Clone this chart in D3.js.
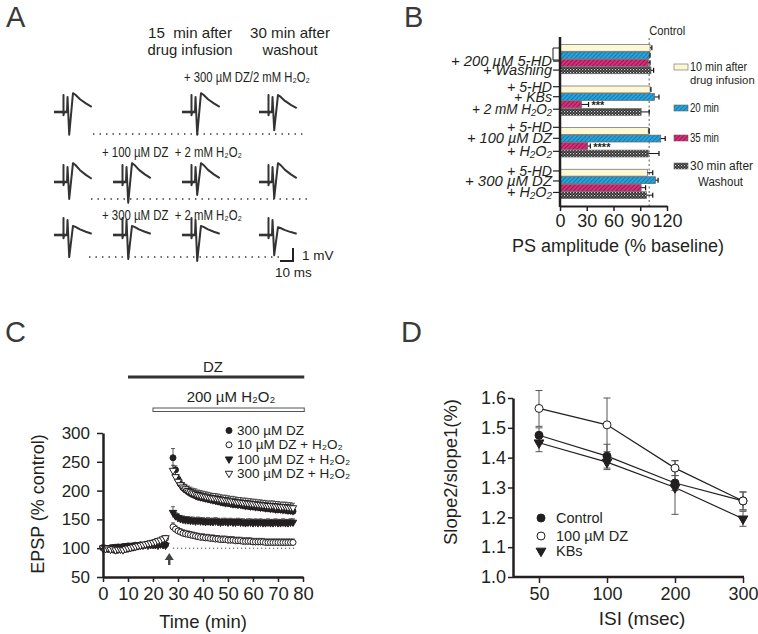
<!DOCTYPE html>
<html><head><meta charset="utf-8">
<script src="https://cdn.jsdelivr.net/npm/d3@7"></script>
<style>
body{margin:0;background:#fff}
svg{display:block}
text{font-family:"Liberation Sans",Arial,Helvetica,sans-serif;fill:#231f20}
</style>
</head><body>
<svg id="c" width="758" height="634"></svg>
<script>
// ---------------- DATA ----------------
// Panel A: example traces (ms, mV) – spike depth, peak and end level for each row/column
const traceT = [0, 7.3, 7.3, 7.3, 7.8, 10.0, 10.4, 11.7, 14.6, 16.5, 20, 24.5, 29];
const rowsA = [
  [{c:0,S:1.75,P:1.45,E:0.4},{c:2,S:1.75,P:1.45,E:0.4},{c:3,S:1.4,P:1.3,E:0.3}],
  [{c:0,S:1.3,P:1.45,E:0.25},{c:1,S:1.6,P:1.45,E:0.3},{c:2,S:1.0,P:1.45,E:0.3},{c:3,S:1.25,P:1.45,E:0.3}],
  [{c:0,S:1.7,P:0.7,E:0.1},{c:1,S:1.85,P:0.7,E:0.1},{c:2,S:2.0,P:0.7,E:0.1},{c:3,S:1.55,P:0.6,E:0.1}]
];
const rowLabelsA = ["+ 300 µM DZ/2 mM H₂O₂", "+ 100 µM DZ  + 2 mM H₂O₂", "+ 300 µM DZ  + 2 mM H₂O₂"];

// Panel B
const bGroups = ["g1","g2","g3","g4"];
const bLabels = [["+ 200 µM 5-HD","+ Washing"],["+ 5-HD","+ KBs","+ 2 mM H₂O₂"],["+ 5-HD","+ 100 µM DZ","+ H₂O₂"],["+ 5-HD","+ 300 µM DZ","+ H₂O₂"]];
const bSeries = ["10 min after drug infusion","20 min","35 min","30 min after Washout"];
const b10  = [101, 101, 99, 98];
const b20  = [100, 106, 113, 107];
const b35  = [99, 24, 31, 91];
const b30w = [102, 91, 99, 97];
const e10  = [2, 1, 1, 6];
const e20  = [1, 5, 5, 3];
const e35  = [2, 8, 3, 5];
const e30w = [3, 9, 12, 7];
const bStars = ["", "***", "****", ""];
const bTicks = [0, 30, 60, 90, 120];

// Panel C
const timeC = [0,1,2,3,4,5,6,7,8,9,10,11,12,13,14,15,16,17,18,19,20,21,22,23,24,25,
  28,29,30,31,32,33,34,35,36,37,38,39,40,41,42,43,44,45,46,47,48,49,50,51,52,53,54,55,56,57,58,59,60,61,62,63,64,65,66,67,68,69,70,71,72,73,74,75,76];
const dz300 = [101,100,99,100,101,100,102,101,102,103,104,103,104,105,104,106,105,106,107,106,105,107,106,108,107,106,
  257,236,220,211,205,201,198,195,193,191,189,188,187,186,185,184,183,182,181,180,179,178,178,177,176,176,175,175,174,173,173,172,172,171,171,170,170,169,169,168,168,167,167,167,166,166,165,165,164];
const dz10H = [100,99,98,99,97,96,97,98,97,98,99,100,101,102,103,104,105,106,107,108,109,110,112,113,115,117,
  137,133,130,128,126,125,124,123,122,121,120,119,119,118,118,117,117,116,116,115,115,115,114,114,114,113,113,113,112,112,112,112,111,111,111,111,111,110,110,110,110,110,110,110,110,110,110,110,110];
const dz100H = [100,101,100,101,102,101,103,102,103,104,103,104,105,104,105,106,105,106,105,106,107,106,105,107,106,105,
  162,156,153,151,150,149,149,148,148,147,148,147,147,146,147,146,146,147,146,145,146,146,145,146,145,145,146,145,145,144,145,145,144,145,144,145,144,144,145,144,144,145,144,144,145,144,144,145,145];
const dz300H = [100,99,100,98,99,97,98,98,97,99,100,101,102,103,104,105,106,107,108,109,110,111,113,114,116,118,
  235,224,216,210,206,203,200,198,196,195,193,192,191,190,189,188,187,187,186,185,184,184,183,182,182,181,180,180,179,179,178,178,177,177,176,176,175,175,174,174,174,173,173,172,172,172,171,171,170];
const cNames = ["300 µM DZ", "10 µM DZ + H₂O₂", "100 µM DZ + H₂O₂", "300 µM DZ + H₂O₂"];
const cErrBase = [3, 3, 3, 3];
const cErrFirst = [16, 7, 10, 9];
const cErrPost = [7, 6, 6, 8];
const cXTicks = [0,10,20,30,40,50,60,70,80];
const cYTicks = [50,100,150,200,250,300];

// Panel D
const dISI = ["50","100","200","300"];
const dControl = [1.475, 1.405, 1.315, 1.255];
const dControlErr = [0.025, 0.04, 0.025, 0.03];
const dDZ = [1.565, 1.51, 1.365, 1.255];
const dDZErr = [0.06, 0.09, 0.025, 0.03];
const dKB = [1.45, 1.385, 1.30, 1.195];
const dKBErr = [0.03, 0.025, 0.09, 0.025];
const dNames = ["Control", "100 µM DZ", "KBs"];
const dYTicks = [1.0,1.1,1.2,1.3,1.4,1.5,1.6];

// ---------------- HELPERS ----------------
const svg = d3.select('#c');
svg.append('rect').attr('width',758).attr('height',634).attr('fill','#fff');
const INK = '#231f20';

function fit(t, w){
  t.attr('textLength', w).attr('lengthAdjust','spacingAndGlyphs');
  return t;
}
function letter(x,y,s){ svg.append('text').attr('x',x).attr('y',y).attr('font-size',29).style('fill','#3a3a3a').text(s); }

letter(6,27,'A'); letter(404,27,'B'); letter(5,342,'C'); letter(401,342,'D');

// ---------------- PANEL A ----------------
(function(){
  const g = svg.append('g');
  const hdr = [[190,38,"15  min after",84],[190,55,"drug infusion",85],[290,38,"30 min after",80],[290,55,"washout",55]];
  hdr.forEach(h => fit(g.append('text').attr('x',h[0]-h[3]/2).attr('y',h[1]).attr('font-size',15).style('white-space','pre').text(h[2]), h[3]));
  const rowLab = [[184,82,126],[102,157,140],[102,220,140]];
  rowLabelsA.forEach((s,i) => {
    const t = g.append('text').attr('x',rowLab[i][0]).attr('y',rowLab[i][1]).attr('font-size',14).style('white-space','pre').text(s);
    fit(t, rowLab[i][2]);
  });
  const xA = d3.scaleLinear().domain([0,10]).range([0,13]);
  const yA = d3.scaleLinear().domain([0,1]).range([0,-13]);
  const line = d3.line().x(d => xA(d[0])).y(d => yA(d[1]));
  const colX = [54,113,182,259], rowY = [112,182,235];
  function shape(S,P,E){ const d = P-E; return [0,0,1.3,-0.25,0,0,1.15,-S,P,P-0.12*d,P-0.45*d,P-0.75*d,P-d]; }
  rowsA.forEach((row,ri) => row.forEach(tr => {
    const v = shape(tr.S,tr.P,tr.E);
    const tg = g.append('g').attr('transform',`translate(${colX[tr.c]},${rowY[ri]})`);
    tg.append('path').attr('d', line(traceT.map((t,i)=>[t,v[i]]))).attr('fill','none').attr('stroke','#333').attr('stroke-width',2).attr('stroke-linejoin','round');
    tg.append('path').attr('d', line([[0,0],[10,0]])).attr('stroke','#333').attr('stroke-width',2.6);
  }));
  const dots = [[134,93,305],[199,91,310],[257,89,283]];
  dots.forEach(d => g.append('line').attr('x1',d[1]).attr('x2',d[2]).attr('y1',d[0]).attr('y2',d[0])
     .attr('stroke','#333').attr('stroke-width',1.4).attr('stroke-dasharray','1.4,5.1'));
  const sb = g.append('g').attr('transform','translate(293,261)');
  sb.append('path').attr('d', `M${xA(-10)},0H0V${yA(1)}`).attr('fill','none').attr('stroke','#222').attr('stroke-width',2);
  g.append('text').attr('x',302).attr('y',260).attr('font-size',13.5).text('1 mV');
  g.append('text').attr('x',275).attr('y',277).attr('font-size',13.5).text('10 ms');
})();

// ---------------- PANEL B ----------------
(function(){
  const g = svg.append('g');
  const defs = svg.append('defs');
  function hatch(id, base, line){
    const p = defs.append('pattern').attr('id',id).attr('patternUnits','userSpaceOnUse').attr('width',3).attr('height',3).attr('patternTransform','rotate(45)');
    p.append('rect').attr('width',3).attr('height',3).attr('fill',base);
    p.append('rect').attr('width',1).attr('height',3).attr('fill',line);
  }
  hatch('hBlue','#29a3d9','#137bb0');
  hatch('hMag','#d6307c','#a3124f');
  const ck = defs.append('pattern').attr('id','hBlk').attr('patternUnits','userSpaceOnUse').attr('width',3).attr('height',3);
  ck.append('rect').attr('width',3).attr('height',3).attr('fill','#2b2b2b');
  ck.append('rect').attr('x',0).attr('y',0).attr('width',1.2).attr('height',1.2).attr('fill','#d8d8d8');
  ck.append('rect').attr('x',1.5).attr('y',1.5).attr('width',1.2).attr('height',1.2).attr('fill','#9a9a9a');
  const fills = ['#fdf8d4','url(#hBlue)','url(#hMag)','url(#hBlk)'];

  const x = d3.scaleLinear().domain([0,120]).range([560,667]);
  const y = d3.scaleBand().domain(bGroups).range([37,206]).paddingInner(0.28).paddingOuter(0.17);
  const ys = d3.scaleBand().domain(bSeries).range([0,y.bandwidth()]);
  const vals = [b10,b20,b35,b30w], errs = [e10,e20,e35,e30w];

  g.append('line').attr('x1',x(100)).attr('x2',x(100)).attr('y1',38).attr('y2',206).attr('stroke','#555').attr('stroke-width',1).attr('stroke-dasharray','2,2.5');
  fit(g.append('text').attr('x',x(100)).attr('y',35).attr('font-size',12.5).text('Control'), 36);

  bGroups.forEach((gr,gi) => {
    bSeries.forEach((s,si) => {
      const v = vals[si][gi], e = errs[si][gi];
      const yy = y(gr)+ys(s), h = ys.bandwidth();
      g.append('rect').attr('x',x(0)).attr('y',yy+0.3).attr('width',x(v)-x(0)).attr('height',h-0.6)
        .attr('fill',fills[si]).attr('stroke','#666').attr('stroke-width',0.7);
      const cy = yy + h/2;
      g.append('line').attr('x1',x(v)).attr('x2',x(v+e)).attr('y1',cy).attr('y2',cy).attr('stroke','#111').attr('stroke-width',1);
      g.append('line').attr('x1',x(v+e)).attr('x2',x(v+e)).attr('y1',cy-2.5).attr('y2',cy+2.5).attr('stroke','#111').attr('stroke-width',1.2);
      if (si === 2 && bStars[gi]) {
        g.append('text').attr('x',x(v+e)+3).attr('y',cy+5).attr('font-size',11).attr('font-weight','bold').text(bStars[gi]);
      }
    });
  });
  const offs = [[22,31],[6,16,28.5],[5,16,29],[7,17,28.5]];
  const widths = [[101,69],[45,38,80],[45,85,45],[45,87,45]];
  bGroups.forEach((gr,gi) => {
    bLabels[gi].forEach((s,li) => {
      const by = y(gr) + offs[gi][li];
      const t = g.append('text').attr('x',552-widths[gi][li]).attr('y',by).attr('font-size',15).attr('font-style','italic').text(s);
      fit(t, widths[gi][li]);
      g.append('line').attr('x1',553).attr('x2',560).attr('y1',by-5).attr('y2',by-5).attr('stroke',INK).attr('stroke-width',1.2);
    });
  });
  g.append('path').attr('d','M560,48H553V60H560').attr('fill','none').attr('stroke',INK).attr('stroke-width',1);

  g.append('line').attr('x1',560).attr('x2',560).attr('y1',37).attr('y2',207).attr('stroke',INK).attr('stroke-width',2.5);
  const ax = g.append('g').attr('transform','translate(0,206)').call(d3.axisBottom(x).tickValues(bTicks).tickSize(5).tickSizeOuter(0).tickPadding(3));
  ax.select('.domain').attr('stroke',INK).attr('stroke-width',2);
  ax.selectAll('.tick line').attr('stroke',INK).attr('stroke-width',1.5);
  ax.selectAll('.tick text').attr('font-size',18).attr('font-family','Liberation Sans, Arial, sans-serif').attr('fill',INK);
  g.append('text').attr('x',618).attr('y',252).attr('text-anchor','middle').attr('font-size',18).text('PS amplitude (% baseline)');

  const leg = [[67,['10 min after','drug infusion'],[57,0]],[108,['20 min'],[29]],[138,['35 min'],[29]],[166,['30 min after','Washout'],[63,45]]];
  leg.forEach((l,i) => {
    g.append('rect').attr('x',674).attr('y',l[0]-3).attr('width',14).attr('height',6).attr('fill',fills[i]).attr('stroke','#666').attr('stroke-width',0.6);
    fit(g.append('text').attr('x',690).attr('y',l[0]+4).attr('font-size',12.5).text(l[1][0]), l[2][0]);
    if (l[1][1]) {
      const xx = i === 3 ? 698 : 690;
      const t2 = g.append('text').attr('x',xx).attr('y',l[0]+(i===3?20:17)).attr('font-size', i===3 ? 12.5 : 11.3).text(l[1][1]);
      if (l[2][1]) fit(t2, l[2][1]);
    }
  });
})();

// ---------------- PANEL C ----------------
const sym = {
  fc: {type:'circle', fill:INK},
  oc: {type:'circle', fill:'#fff'},
  ft: {type:'tri', fill:INK},
  ot: {type:'tri', fill:'#fff'}
};
function drawMarker(g, x, y, kind, size){
  const s = sym[kind];
  if (s.type === 'circle') {
    g.append('circle').attr('cx',x).attr('cy',y).attr('r',size).attr('fill',s.fill).attr('stroke',INK).attr('stroke-width',1);
  } else {
    g.append('path').attr('d', d3.symbol(d3.symbolTriangle, size*size*2.6)()).attr('transform',`translate(${x},${y}) rotate(180)`)
      .attr('fill',s.fill).attr('stroke',INK).attr('stroke-width',1);
  }
}
(function(){
  const g = svg.append('g');
  const x = d3.scaleLinear().domain([0,80]).range([103,303]);
  const y = d3.scaleLinear().domain([50,300]).range([577,433]);
  g.append('text').attr('x',213).attr('y',372).attr('text-anchor','middle').attr('font-size',15).text('DZ');
  g.append('line').attr('x1',x(10)).attr('x2',x(80.5)).attr('y1',377).attr('y2',377).attr('stroke','#333').attr('stroke-width',3);
  g.append('text').attr('x',231).attr('y',402).attr('text-anchor','middle').attr('font-size',15).text('200 µM H₂O₂');
  g.append('rect').attr('x',x(20)).attr('y',408).attr('width',x(80.5)-x(20)).attr('height',3.5).attr('fill','#fff').attr('stroke','#555').attr('stroke-width',1);

  g.append('line').attr('x1',x(28)).attr('x2',x(77)).attr('y1',y(100)).attr('y2',y(100)).attr('stroke','#444').attr('stroke-width',1).attr('stroke-dasharray','1.2,2.8');
  g.append('path').attr('d',`M${x(26.5)},553l-4.5,7h3.3v5h2.4v-5h3.3z`).attr('fill','#444');

  const series = [
    {v:dz10H, k:'oc', i:1}, {v:dz100H, k:'ft', i:2}, {v:dz300, k:'fc', i:0}, {v:dz300H, k:'ot', i:3}
  ];
  series.forEach(s => {
    const gg = g.append('g');
    timeC.forEach((t,j) => {
      const e = t < 26 ? cErrBase[s.i] : (t === 28 ? cErrFirst[s.i] : cErrPost[s.i]);
      const cx = x(t);
      gg.append('line').attr('x1',cx).attr('x2',cx).attr('y1',y(s.v[j]+e)).attr('y2',y(s.v[j]-e)).attr('stroke','#333').attr('stroke-width',0.8);
      gg.append('line').attr('x1',cx-2).attr('x2',cx+2).attr('y1',y(s.v[j]+e)).attr('y2',y(s.v[j]+e)).attr('stroke','#333').attr('stroke-width',0.8);
    });
    timeC.forEach((t,j) => drawMarker(gg, x(t), y(s.v[j]), s.k, 3));
  });

  const ay = g.append('g').attr('transform','translate(103,0)').call(d3.axisLeft(y).tickValues(cYTicks).tickSize(6).tickSizeOuter(0).tickPadding(7));
  const axx = g.append('g').attr('transform','translate(0,577)').call(d3.axisBottom(x).tickValues(cXTicks).tickSize(5).tickSizeOuter(0).tickPadding(5));
  [ay,axx].forEach(a => {
    a.select('.domain').attr('stroke',INK).attr('stroke-width',2.5);
    a.selectAll('.tick line').attr('stroke',INK).attr('stroke-width',1.5);
    a.selectAll('.tick text').attr('font-family','Liberation Sans, Arial, sans-serif').attr('fill',INK);
  });
  ay.selectAll('.tick text').attr('font-size',17);
  axx.selectAll('.tick text').attr('font-size',18.5);
  g.append('text').attr('x',203).attr('y',628).attr('text-anchor','middle').attr('font-size',18.5).text('Time (min)');
  g.append('text').attr('transform','translate(44,504) rotate(-90)').attr('text-anchor','middle').attr('font-size',18).text('EPSP (% control)');

  const kinds = ['fc','oc','ft','ot'];
  cNames.forEach((n,i) => {
    const by = 435 + i*14.3;
    drawMarker(g, 229, by-4.5, kinds[i], 3);
    g.append('text').attr('x',237).attr('y',by).attr('font-size',13.5).text(n);
  });
})();

// ---------------- PANEL D ----------------
(function(){
  const g = svg.append('g');
  const x = d3.scalePoint().domain(dISI).range([539,743]);
  const y = d3.scaleLinear().domain([1.0,1.6]).range([577,398]);
  const sets = [
    {v:dKB, e:dKBErr, k:'ft'},
    {v:dControl, e:dControlErr, k:'fc'},
    {v:dDZ, e:dDZErr, k:'oc'}
  ];
  const line = d3.line().x((d,i)=>x(dISI[i])).y(d=>y(d));
  sets.forEach(s => {
    s.v.forEach((v,i) => {
      const cx = x(dISI[i]);
      g.append('line').attr('x1',cx).attr('x2',cx).attr('y1',y(v+s.e[i])).attr('y2',y(v-s.e[i])).attr('stroke','#555').attr('stroke-width',1);
      [v+s.e[i], v-s.e[i]].forEach(w => g.append('line').attr('x1',cx-3.5).attr('x2',cx+3.5).attr('y1',y(w)).attr('y2',y(w)).attr('stroke','#555').attr('stroke-width',1));
    });
  });
  sets.forEach(s => g.append('path').attr('d', line(s.v)).attr('fill','none').attr('stroke',INK).attr('stroke-width',1.2));
  sets.forEach(s => s.v.forEach((v,i) => drawMarker(g, x(dISI[i]), y(v), s.k, 4)));

  const ay = g.append('g').attr('transform','translate(513,0)').call(d3.axisLeft(y).tickValues(dYTicks).tickFormat(d3.format('.1f')).tickSize(5).tickSizeOuter(0).tickPadding(2));
  g.append('line').attr('x1',513).attr('x2',744).attr('y1',577).attr('y2',577).attr('stroke',INK).attr('stroke-width',2.5);
  const ax = g.append('g').attr('transform','translate(0,577)').call(d3.axisBottom(x).tickSize(6).tickSizeOuter(0).tickPadding(4));
  ax.select('.domain').remove();
  ay.select('.domain').attr('stroke',INK).attr('stroke-width',2.5);
  [ay,ax].forEach(a => {
    a.selectAll('.tick line').attr('stroke',INK).attr('stroke-width',1.5);
    a.selectAll('.tick text').attr('font-size',18).attr('font-family','Liberation Sans, Arial, sans-serif').attr('fill',INK);
  });
  g.append('text').attr('x',642).attr('y',625).attr('text-anchor','middle').attr('font-size',19).text('ISI (msec)');
  g.append('text').attr('transform','translate(457,472) rotate(-90)').attr('text-anchor','middle').attr('font-size',18.5).text('Slope2/slope1(%)');

  const kinds = ['fc','oc','ft'];
  const ly = [523, 541, 556];
  dNames.forEach((n,i) => {
    drawMarker(g, 541, ly[i]-5, kinds[i], 4);
    g.append('text').attr('x',556).attr('y',ly[i]).attr('font-size',14.5).text(n);
  });
})();
</script>
</body></html>
